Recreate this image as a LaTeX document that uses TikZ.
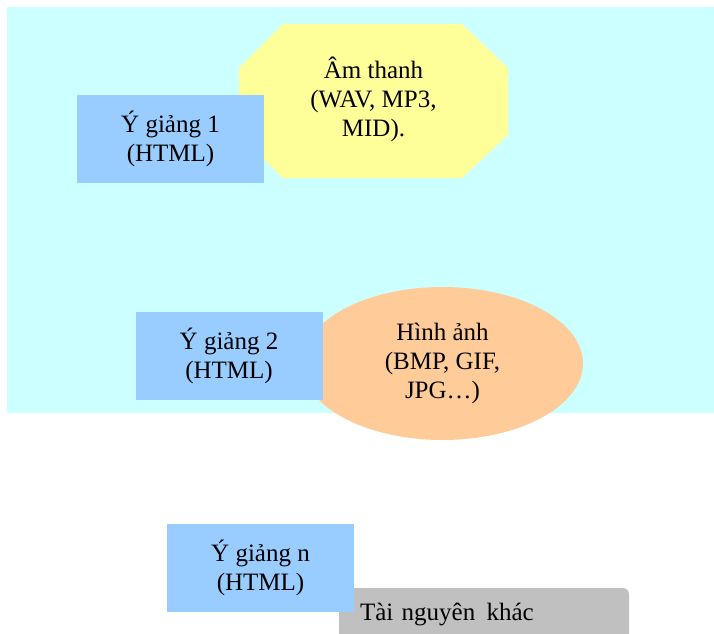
\documentclass[tikz,border=0pt]{standalone}
\usepackage{fontspec}
\setmainfont{Liberation Serif}
\usetikzlibrary{shapes.geometric}
\definecolor{panelcyan}{HTML}{CCFFFF}
\definecolor{soundyellow}{HTML}{FFFF99}
\definecolor{lessonblue}{HTML}{99CCFF}
\definecolor{imageorange}{HTML}{FFCC99}
\definecolor{othergray}{HTML}{C0C0C0}
\tikzset{
  lesson/.style={fill=lessonblue, minimum width=187pt, minimum height=88pt,
    inner sep=0pt, align=center},
  caption/.style={align=center, inner sep=0pt}
}
\begin{document}
\begin{tikzpicture}[x=1pt, y=-1pt, font=\fontsize{25}{29}\selectfont]
\useasboundingbox (0,0) rectangle (714,633);
% background panel
\fill[panelcyan] (7,7) rectangle (714,413);
% sound resources (octagon)
\fill[soundyellow] (283,24) -- (462,24) -- (508,68) -- (508,135) -- (462,178)
  -- (283,178) -- (239,135) -- (239,68) -- cycle;
\node[caption] (sound) at (373.5,99) {Âm thanh\\(WAV, MP3,\\MID).};
% lesson 1
\node[lesson] (l1) at (170.5,139) {Ý giảng 1\\(HTML)};
% image resources
\node[ellipse, fill=imageorange, minimum width=281pt, minimum height=153pt,
  inner sep=0pt, align=center] (img) at (442.5,363.5) {Hình ảnh\\(BMP, GIF,\\JPG…)};
% lesson 2
\node[lesson] (l2) at (229,355.5) {Ý giảng 2\\(HTML)};
% other resources
\node[fill=othergray, rounded corners=6pt, minimum height=52pt,
  text width=248pt, inner xsep=21pt, inner ysep=0pt, align=left] (other)
  at (484,614) {Tài nguyên\hspace{3pt} khác};
% lesson n
\node[lesson] (ln) at (260.5,568) {Ý giảng n\\(HTML)};
\end{tikzpicture}
\end{document}
